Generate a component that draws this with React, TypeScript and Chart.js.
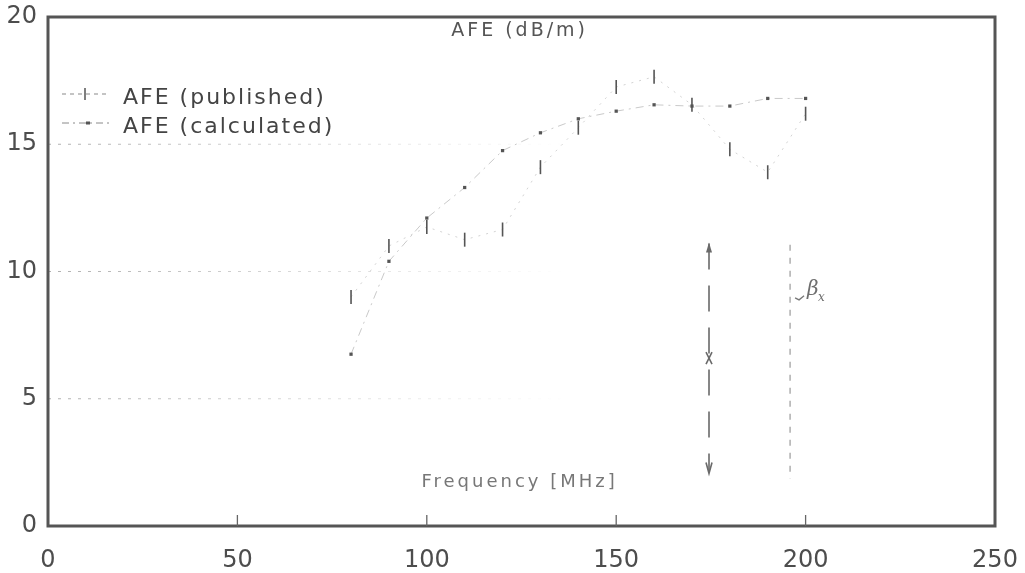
import React, { useEffect, useRef } from "react";
import { Chart, registerables } from "chart.js";

Chart.register(...registerables);

// ---- data ----
const frequencies = [80, 90, 100, 110, 120, 130, 140, 150, 160, 170, 180, 190, 200];
const afePublished = [9.0, 11.0, 11.75, 11.25, 11.65, 14.1, 15.65, 17.25, 17.65, 16.55, 14.8, 13.9, 16.2];
const afeCalculated = [6.75, 10.4, 12.1, 13.3, 14.75, 15.45, 16.0, 16.3, 16.55, 16.5, 16.5, 16.8, 16.8];
const xTicks = [0, 50, 100, 150, 200, 250];
const yTicks = [0, 5, 10, 15, 20];
const seriesNames = ["AFE (published)", "AFE (calculated)"];
const yAxisTitle = "AFE (dB/m)";
const xAxisTitle = "Frequency [MHz]";

// annotation anchors in data units
const yTitleAt = { x: 124.5, y: 19.45 };
const xTitleAt = { x: 124.5, y: 1.7 };
const arrowAt = { x: 174.5, yTop: 11.1, yBottom: 2.1 };
const markerLineAt = { x: 195.9, yTop: 11.05, yBottom: 1.85 };
const betaAt = { x: 202.5, y: 9.2 };

const FONT = "'DejaVu Sans', Arial, sans-serif";

const framePlugin = {
  id: "framePlugin",
  beforeDatasetsDraw(chart: any) {
    const { ctx, chartArea: a, scales } = chart;
    const ys = scales.y;
    ctx.save();
    // faint dotted horizontal grid, fading to the right
    yTicks.slice(1, -1).forEach((v) => {
      const py = ys.getPixelForValue(v);
      const g = ctx.createLinearGradient(a.left, 0, a.right, 0);
      g.addColorStop(0, "rgba(110,110,110,0.55)");
      g.addColorStop(0.3, "rgba(110,110,110,0.22)");
      g.addColorStop(0.55, "rgba(110,110,110,0.0)");
      ctx.strokeStyle = g;
      ctx.lineWidth = 1;
      ctx.setLineDash([3, 7]);
      ctx.beginPath();
      ctx.moveTo(a.left, py);
      ctx.lineTo(a.right, py);
      ctx.stroke();
    });
    ctx.restore();
  },
  afterDraw(chart: any) {
    const { ctx, chartArea: a, scales } = chart;
    const xs = scales.x;
    const ys = scales.y;
    ctx.save();
    // frame
    ctx.setLineDash([]);
    ctx.strokeStyle = "#555";
    ctx.lineWidth = 3;
    ctx.strokeRect(a.left, a.top, a.right - a.left, a.bottom - a.top);
    // inner x ticks
    ctx.lineWidth = 1.3;
    ctx.strokeStyle = "#666";
    xTicks.slice(1, -1).forEach((v) => {
      const px = xs.getPixelForValue(v);
      ctx.beginPath();
      ctx.moveTo(px, a.bottom);
      ctx.lineTo(px, a.bottom - 11);
      ctx.stroke();
    });

    // axis titles inside plot
    ctx.fillStyle = "#555";
    ctx.font = `19px ${FONT}`;
    (ctx as any).letterSpacing = "3px";
    ctx.textAlign = "center";
    ctx.textBaseline = "middle";
    ctx.fillText(yAxisTitle, xs.getPixelForValue(yTitleAt.x), ys.getPixelForValue(yTitleAt.y));
    ctx.fillStyle = "#777";
    ctx.font = `18px ${FONT}`;
    (ctx as any).letterSpacing = "3px";
    ctx.fillText(xAxisTitle, xs.getPixelForValue(xTitleAt.x), ys.getPixelForValue(xTitleAt.y));
    (ctx as any).letterSpacing = "0px";

    // double arrow
    const ax = xs.getPixelForValue(arrowAt.x);
    const at = ys.getPixelForValue(arrowAt.yTop);
    const ab = ys.getPixelForValue(arrowAt.yBottom);
    ctx.strokeStyle = "#6a6a6a";
    ctx.lineWidth = 1.6;
    ctx.setLineDash([26, 16]);
    ctx.beginPath();
    ctx.moveTo(ax, at);
    ctx.lineTo(ax, ab);
    ctx.stroke();
    ctx.setLineDash([]);
    ctx.fillStyle = "#6a6a6a";
    ctx.beginPath();
    ctx.moveTo(ax, at - 1);
    ctx.lineTo(ax - 3, at + 9);
    ctx.lineTo(ax + 3, at + 9);
    ctx.closePath();
    ctx.fill();
    ctx.beginPath();
    ctx.moveTo(ax - 3, ab - 10);
    ctx.lineTo(ax, ab + 1);
    ctx.lineTo(ax + 3, ab - 10);
    ctx.stroke();
    const mid = (at + ab) / 2;
    ctx.beginPath();
    ctx.moveTo(ax - 3, mid - 6);
    ctx.lineTo(ax + 3, mid + 6);
    ctx.moveTo(ax + 3, mid - 6);
    ctx.lineTo(ax - 3, mid + 6);
    ctx.stroke();

    // dashed marker line
    const mx = xs.getPixelForValue(markerLineAt.x);
    ctx.strokeStyle = "#9a9a9a";
    ctx.lineWidth = 1.2;
    ctx.setLineDash([6, 7]);
    ctx.beginPath();
    ctx.moveTo(mx, ys.getPixelForValue(markerLineAt.yTop));
    ctx.lineTo(mx, ys.getPixelForValue(markerLineAt.yBottom));
    ctx.stroke();
    ctx.setLineDash([]);

    // handwritten beta
    const bx = xs.getPixelForValue(betaAt.x);
    const by = ys.getPixelForValue(betaAt.y);
    ctx.strokeStyle = "#777";
    ctx.lineWidth = 1.3;
    ctx.beginPath();
    ctx.moveTo(bx - 20, by + 6);
    ctx.lineTo(bx - 16, by + 8);
    ctx.lineTo(bx - 11, by + 4);
    ctx.stroke();
    ctx.fillStyle = "#6e6e6e";
    ctx.font = `italic 20px 'DejaVu Serif', serif`;
    ctx.textAlign = "left";
    ctx.fillText("β", bx - 8, by - 2);
    ctx.font = `italic 12px 'DejaVu Serif', serif`;
    ctx.fillText("x", bx + 3, by + 6);

    // legend
    const rows = [
      { y: 94, ty: 98, marker: "bar", dash: [4, 4] },
      { y: 123, ty: 127, marker: "dot", dash: [7, 4, 2, 4] },
    ];
    rows.forEach((r, i) => {
      ctx.strokeStyle = "#8a8a8a";
      ctx.lineWidth = 1;
      ctx.setLineDash(r.dash);
      ctx.beginPath();
      ctx.moveTo(a.left + 14, r.y);
      ctx.lineTo(a.left + 62, r.y);
      ctx.stroke();
      ctx.setLineDash([]);
      ctx.strokeStyle = "#555";
      ctx.fillStyle = "#555";
      if (r.marker === "bar") {
        ctx.lineWidth = 1.5;
        ctx.beginPath();
        ctx.moveTo(a.left + 37, r.y - 6);
        ctx.lineTo(a.left + 37, r.y + 6);
        ctx.stroke();
      } else {
        ctx.fillRect(a.left + 38, r.y - 1.5, 4, 3);
      }
      ctx.fillStyle = "#444";
      ctx.font = `22px ${FONT}`;
      (ctx as any).letterSpacing = "2px";
      ctx.textAlign = "left";
      ctx.textBaseline = "middle";
      ctx.fillText(seriesNames[i], a.left + 75, r.ty);
      (ctx as any).letterSpacing = "0px";
    });
    ctx.restore();
  },
};

export default function App() {
  const ref = useRef<HTMLCanvasElement>(null);
  useEffect(() => {
    if (!ref.current) return;
    const chart = new Chart(ref.current, {
      type: "line",
      data: {
        datasets: [
          {
            label: seriesNames[0],
            data: frequencies.map((f, i) => ({ x: f, y: afePublished[i] })),
            borderColor: "rgba(110,110,110,0.3)",
            borderWidth: 1,
            borderDash: [2, 6],
            pointStyle: "line",
            rotation: 90,
            pointRadius: 7,
            pointBorderWidth: 1.6,
            pointBorderColor: "#555",
            pointBackgroundColor: "#555",
            fill: false,
            tension: 0,
          },
          {
            label: seriesNames[1],
            data: frequencies.map((f, i) => ({ x: f, y: afeCalculated[i] })),
            borderColor: "rgba(100,100,100,0.35)",
            borderWidth: 1,
            borderDash: [8, 5, 2, 5],
            pointStyle: "rect",
            pointRadius: 2.3,
            pointBorderWidth: 0,
            pointBackgroundColor: "#555",
            fill: false,
            tension: 0,
          },
        ],
      },
      options: {
        animation: false,
        responsive: false,
        devicePixelRatio: 1,
        layout: { padding: { top: 17, right: 30, left: 0, bottom: 0 } },
        plugins: { legend: { display: false }, tooltip: { enabled: false } },
        scales: {
          x: {
            type: "linear",
            min: 0,
            max: 250,
            grid: { display: false, drawTicks: false },
            border: { display: false },
            afterBuildTicks: (s: any) => {
              s.ticks = xTicks.map((v) => ({ value: v }));
            },
            afterFit: (s: any) => {
              s.height = 47;
              s.paddingLeft = 0;
              s.paddingRight = 0;
            },
            ticks: {
              autoSkip: false,
              maxRotation: 0,
              padding: 20,
              color: "#4d4d4d",
              font: { family: FONT, size: 24 },
            },
          },
          y: {
            type: "linear",
            min: 0,
            max: 20,
            grid: { display: false, drawTicks: false },
            border: { display: false },
            afterBuildTicks: (s: any) => {
              s.ticks = yTicks.map((v) => ({ value: v }));
            },
            afterFit: (s: any) => {
              s.width = 48;
              s.paddingTop = 0;
              s.paddingBottom = 0;
            },
            ticks: {
              padding: 11,
              color: "#4d4d4d",
              font: { family: FONT, size: 24 },
            },
          },
        },
      },
      plugins: [framePlugin],
    });
    return () => chart.destroy();
  }, []);
  return (
    <div style={{ position: "absolute", left: 0, top: 0, width: 1025, height: 573, background: "#fff" }}>
      <canvas ref={ref} width={1025} height={573} />
    </div>
  );
}
